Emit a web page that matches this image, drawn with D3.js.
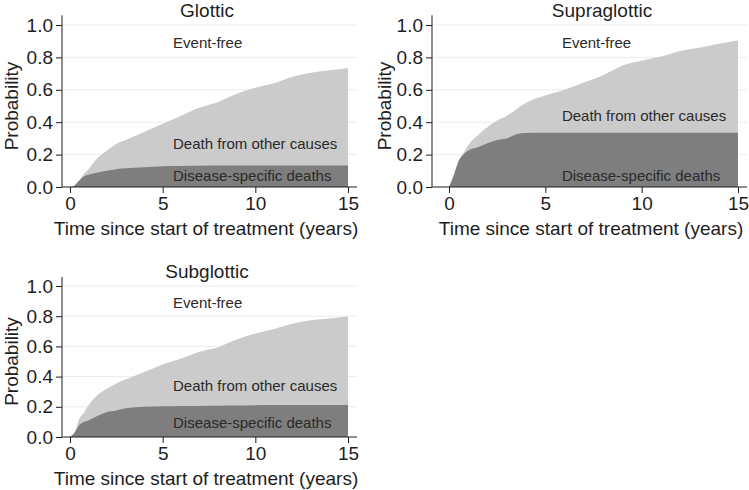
<!DOCTYPE html>
<html>
<head>
<meta charset="utf-8">
<script src="https://cdn.jsdelivr.net/npm/d3@7"></script>
<style>
html,body{margin:0;padding:0;background:#fff;}
svg{display:block;font-family:"Liberation Sans",Arial,sans-serif;}
</style>
</head>
<body>
<svg id="chart" width="749" height="490"></svg>
<script>
// ---- data ----
const panelTitles = ["Glottic", "Supraglottic", "Subglottic"];
const yTicks = [0, 0.2, 0.4, 0.6, 0.8, 1.0];
const xTicks = [0, 5, 10, 15];
const areaLabels = ["Event-free", "Death from other causes", "Disease-specific deaths"];

const glotticTime    = [0, 0.25, 0.5, 0.75, 1, 1.5, 2, 2.5, 3, 4, 5, 6, 7, 8, 9, 10, 11, 12, 13, 14, 15];
const glotticAll     = [0, 0.01, 0.04, 0.08, 0.11, 0.18, 0.225, 0.265, 0.29, 0.34, 0.39, 0.44, 0.49, 0.525, 0.575, 0.612, 0.64, 0.68, 0.705, 0.72, 0.735];
const glotticDisease = [0, 0.01, 0.04, 0.065, 0.075, 0.09, 0.10, 0.11, 0.115, 0.122, 0.128, 0.13, 0.131, 0.132, 0.132, 0.132, 0.132, 0.132, 0.132, 0.132, 0.132];

const supraTime    = [0, 0.25, 0.5, 0.75, 1, 1.5, 2, 2.5, 3, 3.5, 4, 5, 6, 7, 8, 9, 10, 11, 12, 13, 14, 15];
const supraAll     = [0, 0.08, 0.16, 0.21, 0.26, 0.32, 0.37, 0.41, 0.44, 0.48, 0.52, 0.565, 0.60, 0.645, 0.69, 0.75, 0.78, 0.805, 0.84, 0.86, 0.885, 0.905];
const supraDisease = [0, 0.07, 0.16, 0.20, 0.225, 0.245, 0.27, 0.29, 0.30, 0.325, 0.333, 0.335, 0.335, 0.335, 0.335, 0.335, 0.335, 0.335, 0.335, 0.335, 0.335, 0.335];

const subTime    = [0, 0.25, 0.5, 0.75, 1, 1.5, 2, 2.5, 3, 4, 5, 6, 7, 8, 9, 10, 11, 12, 13, 14, 15];
const subAll     = [0, 0.03, 0.12, 0.16, 0.21, 0.28, 0.32, 0.355, 0.38, 0.43, 0.48, 0.52, 0.565, 0.595, 0.645, 0.685, 0.715, 0.75, 0.773, 0.785, 0.80];
const subDisease = [0, 0.03, 0.08, 0.10, 0.11, 0.14, 0.165, 0.175, 0.19, 0.20, 0.203, 0.205, 0.206, 0.207, 0.208, 0.21, 0.212, 0.212, 0.212, 0.212, 0.212];

// label anchor positions (data units: [year, probability]) per panel
const labelPos = [
  [[5.56, 0.89], [5.56, 0.27], [5.56, 0.068]],
  [[5.86, 0.89], [5.86, 0.44], [5.86, 0.07]],
  [[5.56, 0.89], [5.56, 0.34], [5.56, 0.096]]
];

// ---- layout ----
const layouts = [
  {axisX: 62,  right: 357, x0: 70,  x15: 348, yTop: 25,  yBot: 187, titleX: 207, titleY: 17, xTitleX: 206, yTitleX: 18},
  {axisX: 432, right: 747, x0: 449, x15: 738, yTop: 25,  yBot: 187, titleX: 602, titleY: 17, xTitleX: 591, yTitleX: 391},
  {axisX: 62,  right: 357, x0: 70,  x15: 348, yTop: 286, yBot: 437, titleX: 207, titleY: 278, xTitleX: 206, yTitleX: 18}
];

const series = [
  {time: glotticTime, all: glotticAll, dis: glotticDisease},
  {time: supraTime, all: supraAll, dis: supraDisease},
  {time: subTime, all: subAll, dis: subDisease}
];

const svg = d3.select("#chart");
const textCol = "#1e1e1e";
const lightCol = "#cbcbcb";
const darkCol = "#7e7e7e";
const fs = "19px";

series.forEach((s, i) => {
  const L = layouts[i];
  const x = d3.scaleLinear().domain([0, 15]).range([L.x0, L.x15]);
  const y = d3.scaleLinear().domain([0, 1]).range([L.yBot, L.yTop]);
  const g = svg.append("g");

  // gridlines
  g.selectAll("line.grid").data(yTicks.filter(t => t > 0)).join("line")
    .attr("x1", L.axisX).attr("x2", L.right)
    .attr("y1", d => y(d)).attr("y2", d => y(d))
    .attr("stroke", "#ececec").attr("stroke-width", 1);

  const pts = s.time.map((t, k) => ({t, a: s.all[k], d: s.dis[k]}));
  const areaAll = d3.area().x(p => x(p.t)).y0(y(0)).y1(p => y(p.a)).curve(d3.curveMonotoneX);
  const areaDis = d3.area().x(p => x(p.t)).y0(y(0)).y1(p => y(p.d)).curve(d3.curveMonotoneX);
  g.append("path").datum(pts).attr("d", areaAll).attr("fill", lightCol);
  g.append("path").datum(pts).attr("d", areaDis).attr("fill", darkCol);

  // y axis
  const yAxis = d3.axisLeft(y).tickValues(yTicks).tickFormat(d3.format(".1f")).tickSize(6).tickPadding(3);
  const ya = g.append("g").attr("transform", `translate(${L.axisX},0)`).call(yAxis);
  ya.select(".domain").remove();
  ya.append("line").attr("x1", 0).attr("x2", 0).attr("y1", y(1.06)).attr("y2", y(0)).attr("stroke", textCol);
  ya.selectAll(".tick line").attr("stroke", textCol);
  ya.selectAll(".tick text").attr("fill", textCol).style("font-size", fs).attr("font-family", null);

  // x axis
  const xAxis = d3.axisBottom(x).tickValues(xTicks).tickFormat(d3.format("d")).tickSize(6).tickPadding(4);
  const xa = g.append("g").attr("transform", `translate(0,${L.yBot})`).call(xAxis);
  xa.select(".domain").remove();
  xa.append("line").attr("x1", L.axisX).attr("x2", L.right).attr("y1", 0).attr("y2", 0).attr("stroke", textCol);
  xa.selectAll(".tick line").attr("stroke", textCol);
  xa.selectAll(".tick text").attr("fill", textCol).style("font-size", fs).attr("font-family", null);

  // titles
  g.append("text").attr("x", L.titleX).attr("y", L.titleY).attr("text-anchor", "middle")
    .attr("fill", textCol).style("font-size", fs).text(panelTitles[i]);
  g.append("text").attr("x", L.xTitleX).attr("y", L.yBot + 48).attr("text-anchor", "middle")
    .attr("fill", textCol).style("font-size", fs).text("Time since start of treatment (years)");
  g.append("text")
    .attr("transform", `translate(${L.yTitleX},${(L.yTop + L.yBot) / 2}) rotate(-90)`)
    .attr("text-anchor", "middle").attr("fill", textCol).style("font-size", fs).text("Probability");

  // area labels
  labelPos[i].forEach((p, k) => {
    g.append("text").attr("x", x(p[0])).attr("y", y(p[1])).attr("dominant-baseline", "central")
      .attr("fill", "#2a2a2a").style("font-size", "15px").text(areaLabels[k]);
  });
});
</script>
</body>
</html>
